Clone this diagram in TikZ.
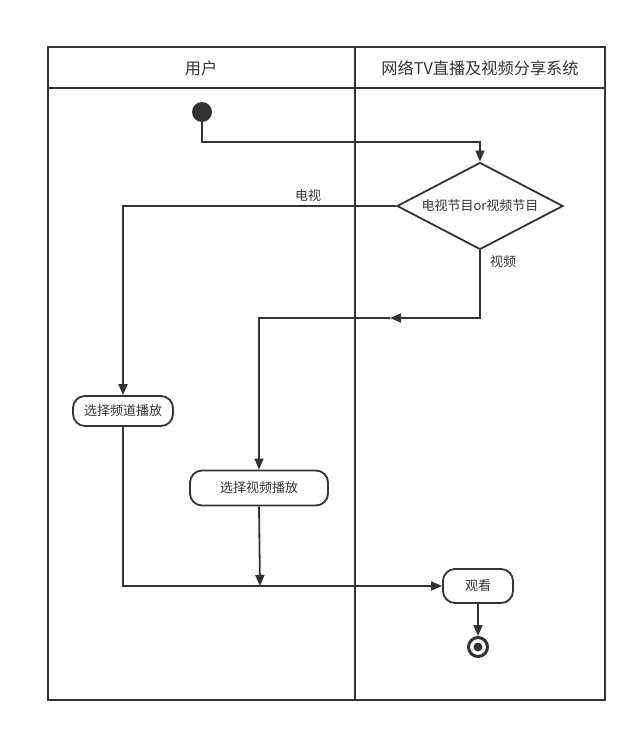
\documentclass[tikz,border=0pt]{standalone}
\usepackage{fontspec}
\setmainfont{Noto Sans CJK SC}
\usetikzlibrary{arrows.meta,shapes.geometric,calc}
\definecolor{ink}{HTML}{333333}
\tikzset{
  lane/.style={draw=ink,line width=2pt},
  act/.style={draw=ink,line width=1.8pt,rounded corners=12pt,fill=white,font=\fontsize{13}{15}\selectfont,inner sep=0pt,text=ink},
  conn/.style={draw=ink,line width=1.8pt,-{Triangle[length=11pt,width=9pt]}},
  lbl/.style={font=\fontsize{13}{15}\selectfont,text=ink},
  hdr/.style={font=\fontsize{16.2}{19}\selectfont,text=ink}
}
\begin{document}
\begin{tikzpicture}[x=1pt,y=-1pt]
\useasboundingbox (0,0) rectangle (637,733);
% swimlanes
\draw[lane] (48,47) rectangle (605,700);
\draw[lane] (48,88) -- (605,88);
\draw[lane] (355,47) -- (355,700);
\node[hdr] (h1) at (201,68) {用户};
\node[hdr] (h2) at (480,68) {网络TV直播及视频分享系统};
% nodes
\node[circle,fill=ink,minimum size=20pt,inner sep=0pt] (s) at (202,112) {};
\node[diamond,draw=ink,line width=1.8pt,fill=white,minimum width=166pt,minimum height=87pt,inner sep=0pt,aspect=1.9] (d) at (480,206) {};
\node[lbl] (dl) at (480,206) {电视节目or视频节目};
\node[act,minimum width=100pt,minimum height=30pt] (c) at (123,411) {选择频道播放};
\node[act,minimum width=138pt,minimum height=35pt] (v) at (259,488) {选择视频播放};
\node[act,minimum width=70pt,minimum height=34pt] (w) at (478,586) {观看};
\node[circle,draw=ink,line width=3pt,minimum size=19pt,inner sep=0pt] (e) at (478,647) {};
\node[circle,fill=ink,minimum size=9pt,inner sep=0pt] (ei) at (e) {};
% coordinates
\coordinate (t) at (480,142);
\coordinate (m) at (390,318);
\coordinate (j) at (260,586);
% connectors
\draw[conn] (s.south) |- (t) -- (d.north);
\draw[conn] (d.west) -| (c.north);
\node[lbl] (l1) at (308,196) {电视};
\draw[conn] (d.south) |- (m);
\draw[conn] (m) -| (v.north);
\node[lbl] (l2) at (503,262) {视频};
\draw[conn] (c.south) |- (w.west);
\draw[conn] (v.south) -- (j);
\draw[conn] (w.south) -- (e.north);
\end{tikzpicture}
\end{document}
